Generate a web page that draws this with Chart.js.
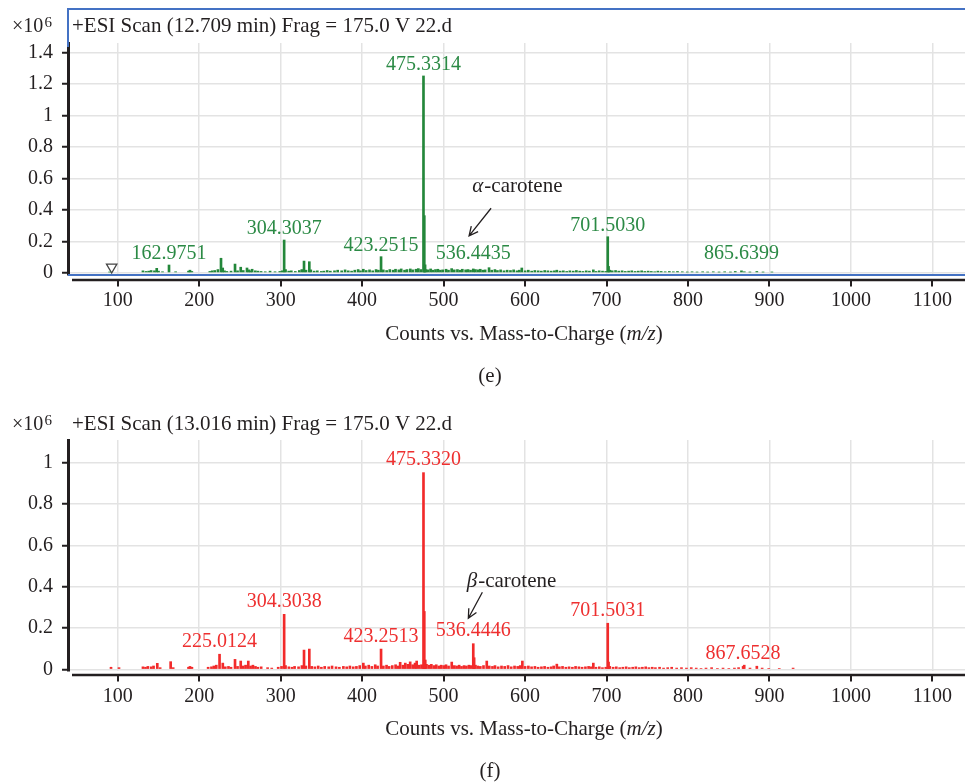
<!DOCTYPE html>
<html>
<head>
<title>ESI scans - alpha / beta carotene</title>
<script src="https://cdn.jsdelivr.net/npm/chart.js"></script>
<style>
    body { margin: 0; background: #fff; }
    .panel { position: absolute; left: 0; }
    #scanE { top: 0; }
    #scanF { top: 392px; }
</style>
</head>
<body>
<canvas id="scanE" class="panel" width="965" height="392"></canvas>
<canvas id="scanF" class="panel" width="965" height="392"></canvas>
<script>
// tick values
const xTicks = [100, 200, 300, 400, 500, 600, 700, 800, 900, 1000, 1100];
const yTicksE = [0, 0.2, 0.4, 0.6, 0.8, 1, 1.2, 1.4];
const yTicksF = [0, 0.2, 0.4, 0.6, 0.8, 1];

// [m/z, counts x10^6]
const peaksE = [
    [90.1,0.004],[131.0,0.012],[134.9,0.008],[138.1,0.010],[141.0,0.014],[145.1,0.012],[147.9,0.028],[150.1,0.010],
    [155.0,0.006],[162.98,0.049],[171.1,0.006],[186.9,0.010],[188.7,0.016],[191.0,0.008],[213.1,0.008],[216.0,0.012],
    [219.1,0.014],[223.0,0.020],[226.8,0.092],[228.9,0.030],[231.1,0.012],[234.0,0.008],[239.1,0.010],[244.0,0.055],
    [247.1,0.012],[251.0,0.035],[254.1,0.014],[258.7,0.030],[261.0,0.018],[263.1,0.012],[265.0,0.022],[268.9,0.012],
    [272.1,0.010],[276.0,0.008],[281.1,0.006],[287.0,0.010],[293.1,0.006],[299.0,0.008],[302.1,0.012],[304.30,0.208],
    [306.0,0.020],[309.9,0.010],[313.1,0.012],[318.0,0.008],[322.9,0.014],[326.0,0.020],[328.7,0.074],[331.1,0.016],
    [335.2,0.070],[337.0,0.018],[341.1,0.010],[345.0,0.012],[349.9,0.008],[353.0,0.010],[357.1,0.014],[361.0,0.010],
    [366.1,0.012],[370.0,0.016],[374.9,0.012],[379.1,0.018],[383.0,0.012],[387.1,0.010],[391.0,0.016],[395.1,0.020],
    [398.0,0.012],[401.5,0.022],[405.0,0.014],[409.1,0.018],[413.0,0.012],[417.1,0.020],[420.0,0.016],[423.25,0.102],
    [426.0,0.018],[430.1,0.014],[434.0,0.020],[438.1,0.016],[441.0,0.022],[445.1,0.018],[448.0,0.024],[452.1,0.016],
    [455.0,0.020],[459.1,0.024],[462.0,0.018],[466.1,0.022],[469.0,0.026],[472.1,0.020],[475.33,1.252],[476.33,0.363],
    [477.3,0.050],[478.3,0.020],[481.0,0.018],[484.1,0.024],[487.0,0.016],[490.1,0.020],[493.0,0.022],[496.1,0.016],
    [499.0,0.018],[503.1,0.022],[506.0,0.016],[509.9,0.026],[513.1,0.018],[517.0,0.020],[520.1,0.016],[523.0,0.022],
    [527.1,0.018],[530.0,0.020],[533.1,0.016],[536.44,0.024],[539.0,0.020],[542.1,0.018],[545.0,0.022],[548.1,0.016],
    [551.0,0.018],[555.8,0.032],[559.1,0.016],[563.0,0.020],[566.1,0.014],[570.0,0.018],[574.1,0.012],[578.0,0.016],
    [582.1,0.014],[586.0,0.018],[590.1,0.012],[593.0,0.016],[596.0,0.030],[600.1,0.012],[604.0,0.016],[608.1,0.010],
    [612.0,0.014],[616.1,0.012],[620.0,0.010],[624.1,0.014],[628.0,0.012],[632.1,0.010],[636.0,0.012],[639.0,0.016],
    [643.1,0.010],[647.0,0.012],[651.1,0.008],[655.0,0.012],[659.1,0.010],[663.0,0.014],[667.1,0.010],[671.0,0.008],
    [675.1,0.012],[679.0,0.010],[683.8,0.018],[687.1,0.008],[691.0,0.012],[695.1,0.010],[699.0,0.008],[701.50,0.229],
    [702.5,0.040],[704.1,0.016],[707.0,0.012],[711.1,0.014],[715.0,0.010],[719.1,0.012],[723.0,0.008],[727.1,0.010],
    [731.0,0.012],[735.1,0.008],[739.0,0.010],[743.1,0.012],[747.0,0.008],[751.1,0.010],[755.0,0.008],[759.1,0.006],
    [763.0,0.010],[767.1,0.008],[772.0,0.006],[777.1,0.008],[782.0,0.006],[787.1,0.008],[793.0,0.006],[799.1,0.004],
    [805.0,0.006],[811.1,0.004],[818.0,0.006],[824.1,0.004],[831.0,0.006],[838.1,0.004],[845.0,0.006],[852.1,0.004],
    [858.0,0.008],[865.64,0.012],[869.1,0.006],[876.0,0.004],[884.5,0.008],[892.1,0.004],[903.0,0.004]
];

// [m/z, counts x10^6]
const peaksF = [
    [91.8,0.010],[101.6,0.008],[131.0,0.012],[134.1,0.010],[137.0,0.014],[141.1,0.012],[144.0,0.016],[148.6,0.029],
    [152.1,0.008],[165.0,0.037],[168.1,0.008],[186.9,0.010],[188.7,0.014],[191.1,0.010],[211.0,0.010],[215.1,0.012],
    [218.0,0.016],[221.0,0.020],[225.01,0.073],[229.0,0.030],[232.1,0.012],[236.0,0.014],[239.1,0.010],[244.0,0.048],
    [247.1,0.014],[251.0,0.040],[254.1,0.016],[257.0,0.020],[260.3,0.040],[263.1,0.016],[266.0,0.020],[269.1,0.014],
    [272.0,0.010],[276.1,0.012],[284.0,0.008],[289.1,0.006],[297.0,0.010],[301.1,0.014],[304.30,0.266],[306.0,0.018],
    [310.1,0.012],[314.0,0.010],[317.1,0.014],[322.0,0.012],[326.1,0.018],[328.7,0.093],[331.0,0.016],[335.2,0.098],
    [338.1,0.014],[342.0,0.012],[346.1,0.016],[350.0,0.010],[354.1,0.014],[359.0,0.012],[363.1,0.016],[368.0,0.012],
    [372.1,0.010],[377.0,0.014],[381.1,0.012],[385.0,0.016],[389.1,0.012],[393.0,0.014],[397.1,0.018],[401.5,0.030],
    [404.0,0.016],[408.1,0.020],[412.0,0.014],[416.1,0.022],[419.0,0.016],[423.25,0.098],[426.1,0.016],[430.0,0.020],
    [433.1,0.014],[437.0,0.018],[441.1,0.022],[444.0,0.016],[446.7,0.034],[450.1,0.020],[453.0,0.030],[456.1,0.024],
    [459.0,0.036],[462.1,0.022],[465.0,0.030],[467.0,0.040],[470.1,0.020],[473.0,0.022],[475.33,0.952],[476.33,0.280],
    [477.5,0.045],[479.0,0.024],[482.1,0.020],[485.0,0.024],[488.1,0.018],[491.0,0.022],[494.1,0.016],[497.0,0.020],
    [500.1,0.018],[503.0,0.022],[506.1,0.016],[510.0,0.035],[513.1,0.018],[516.0,0.016],[519.1,0.020],[522.0,0.014],
    [525.1,0.018],[528.0,0.016],[531.1,0.020],[534.0,0.018],[536.44,0.124],[537.5,0.056],[539.1,0.020],[542.0,0.016],
    [545.1,0.014],[549.0,0.018],[553.0,0.040],[556.1,0.016],[560.0,0.014],[563.1,0.018],[567.0,0.012],[571.1,0.016],
    [575.0,0.014],[579.1,0.018],[583.0,0.012],[587.1,0.016],[591.0,0.014],[594.1,0.018],[596.7,0.040],[600.0,0.014],
    [604.1,0.016],[608.0,0.012],[612.1,0.014],[616.0,0.010],[620.1,0.012],[624.0,0.014],[628.1,0.010],[632.0,0.012],
    [635.1,0.016],[639.0,0.025],[642.1,0.012],[646.0,0.014],[650.1,0.010],[654.0,0.012],[658.1,0.010],[662.0,0.014],
    [666.1,0.012],[670.0,0.010],[674.1,0.012],[678.0,0.014],[681.1,0.012],[683.8,0.030],[687.0,0.010],[691.1,0.012],
    [695.0,0.008],[699.1,0.010],[701.50,0.223],[702.5,0.035],[704.0,0.014],[708.1,0.010],[712.0,0.012],[716.1,0.008],
    [720.0,0.010],[724.1,0.012],[728.0,0.008],[732.1,0.010],[736.0,0.012],[740.1,0.008],[744.0,0.010],[748.1,0.012],
    [752.0,0.008],[756.1,0.010],[760.0,0.008],[765.1,0.010],[770.0,0.006],[775.1,0.008],[780.0,0.010],[786.1,0.006],
    [792.0,0.008],[798.1,0.006],[804.0,0.008],[810.1,0.006],[816.0,0.004],[822.1,0.006],[829.0,0.008],[836.1,0.004],
    [843.0,0.006],[850.1,0.004],[857.0,0.006],[862.1,0.008],[867.65,0.014],[869.0,0.020],[876.1,0.006],[884.5,0.015],
    [891.0,0.006],[899.1,0.004],[912.0,0.004],[929.0,0.006]
];

// annotated peaks (label text is the m/z)
const labelsE = ['162.9751', '304.3037', '423.2515', '475.3314', '536.4435', '701.5030', '865.6399'];
const labelsF = ['225.0124', '304.3038', '423.2513', '475.3320', '536.4446', '701.5031', '867.6528'];

// precursor marker in (e)
const markE = [[92.6, 0.036]];

const SERIF = '"Liberation Serif", "DejaVu Serif", serif';
const INK = '#231f20';
const GRID = '#e3e3e3';

Chart.defaults.font.family = SERIF;
Chart.defaults.color = INK;

function nearestPeak(peaks, m) {
    let best = peaks[0];
    peaks.forEach(p => { if (Math.abs(p[0] - m) < Math.abs(best[0] - m)) best = p; });
    return best;
}

// titles, offset x axis, peak labels, arrow note
const decor = {
    id: 'decor',
    afterDatasetsDraw(chart, args, o) {
        const {ctx, chartArea: a, scales: {x, y}} = chart;
        ctx.save();

        if (o.frame) {
            ctx.strokeStyle = '#4472c4';
            ctx.lineWidth = 2;
            ctx.beginPath();
            ctx.moveTo(a.left, a.bottom); ctx.lineTo(chart.width + 2, a.bottom);
            ctx.moveTo(chart.width + 2, o.frame); ctx.lineTo(a.left, o.frame); ctx.lineTo(a.left, a.top + 4);
            ctx.stroke();
        }

        // x axis line sits a little below the plot
        const axisY = a.bottom + o.axisGap;
        ctx.strokeStyle = INK;
        ctx.lineWidth = 2.5;
        ctx.beginPath();
        ctx.moveTo(a.left + 4, axisY); ctx.lineTo(a.right, axisY);
        ctx.stroke();
        ctx.lineWidth = 2;
        ctx.beginPath();
        x.ticks.forEach(t => {
            const px = Math.round(x.getPixelForValue(t.value));
            ctx.moveTo(px, axisY); ctx.lineTo(px, axisY + 6.5);
        });
        ctx.stroke();

        // scan title and exponent
        ctx.fillStyle = INK;
        ctx.textAlign = 'left';
        ctx.textBaseline = 'alphabetic';
        ctx.font = '21px ' + SERIF;
        ctx.fillText(o.title, 72, o.titleY);
        ctx.font = '20px ' + SERIF;
        ctx.fillText('\u00d710', 12, o.titleY);
        ctx.font = '15px ' + SERIF;
        ctx.fillText('6', 44.5, o.titleY - 5);

        // axis title with italic m/z
        const parts = [['Counts vs. Mass-to-Charge (', ''], ['m/z', 'italic '], [')', '']];
        let w = 0;
        parts.forEach(p => { ctx.font = p[1] + '21px ' + SERIF; w += ctx.measureText(p[0]).width; });
        let tx = 524 - w / 2;
        parts.forEach(p => {
            ctx.font = p[1] + '21px ' + SERIF;
            ctx.fillText(p[0], tx, axisY + 60);
            tx += ctx.measureText(p[0]).width;
        });
        ctx.font = '21px ' + SERIF;
        ctx.textAlign = 'center';
        ctx.fillText(o.caption, 490, axisY + 102);

        // peak labels
        const zero = y.getPixelForValue(0);
        ctx.font = '20px ' + SERIF;
        ctx.fillStyle = o.labelColor;
        o.labels.forEach(txt => {
            const p = nearestPeak(o.peaks, parseFloat(txt));
            const px = x.getPixelForValue(p[0]);
            const top = y.getPixelForValue(p[1]);
            ctx.fillText(txt, px, Math.min(top - o.lift, zero - o.minLift));
        });

        // carotene note with arrow
        const n = o.note;
        const nx = x.getPixelForValue(n.at[0]), ny = y.getPixelForValue(n.at[1]);
        ctx.fillStyle = INK;
        ctx.textAlign = 'left';
        ctx.font = 'italic 21px ' + SERIF;
        ctx.fillText(n.greek, nx, ny);
        const gw = ctx.measureText(n.greek).width;
        ctx.font = '21px ' + SERIF;
        ctx.fillText(n.text, nx + gw + 1, ny);
        const x1 = x.getPixelForValue(n.from[0]), y1 = y.getPixelForValue(n.from[1]);
        const x2 = x.getPixelForValue(n.to[0]), y2 = y.getPixelForValue(n.to[1]);
        const ang = Math.atan2(y1 - y2, x1 - x2);
        ctx.strokeStyle = INK;
        ctx.lineWidth = 1.3;
        ctx.beginPath();
        ctx.moveTo(x1, y1); ctx.lineTo(x2, y2);
        ctx.moveTo(x2 + 10 * Math.cos(ang + 0.45), y2 + 10 * Math.sin(ang + 0.45));
        ctx.lineTo(x2, y2);
        ctx.lineTo(x2 + 10 * Math.cos(ang - 0.45), y2 + 10 * Math.sin(ang - 0.45));
        ctx.stroke();

        ctx.restore();
    }
};

function makeScan(id, cfg) {
    const datasets = [{
        type: 'bar',
        data: cfg.peaks.map(p => ({x: p[0], y: p[1]})),
        backgroundColor: cfg.barColor,
        borderWidth: 0,
        barThickness: 2
    }];
    if (cfg.marks) {
        datasets.push({
            type: 'scatter',
            data: cfg.marks.map(p => ({x: p[0], y: p[1]})),
            pointStyle: 'triangle',
            rotation: 180,
            pointRadius: 6,
            backgroundColor: '#fff',
            borderColor: '#444',
            borderWidth: 1.3
        });
    }
    new Chart(document.getElementById(id), {
        type: 'bar',
        data: {datasets},
        plugins: [decor],
        options: {
            responsive: false,
            animation: false,
            layout: {autoPadding: false, padding: {top: cfg.areaTop, left: 0, right: 0, bottom: 0}},
            plugins: {
                legend: {display: false},
                tooltip: {enabled: false},
                decor: cfg.decor
            },
            scales: {
                x: {
                    type: 'linear',
                    min: 39, max: 1140,
                    offset: false,
                    afterFit: s => { s.height = cfg.xHeight; s.paddingLeft = 0; s.paddingRight = 0; },
                    afterBuildTicks: s => { s.ticks = xTicks.map(v => ({value: v})); },
                    ticks: {padding: 14, font: {size: 20}, color: INK, maxRotation: 0, autoSkip: false,
                            callback: v => String(v)},
                    grid: {color: GRID, lineWidth: 1.5, drawTicks: false, offset: false},
                    border: {display: false}
                },
                y: {
                    min: cfg.yMin, max: cfg.yMax,
                    afterFit: s => { s.width = 68; s.paddingTop = 0; s.paddingBottom = 0; },
                    afterBuildTicks: s => { s.ticks = cfg.yTicks.map(v => ({value: v})); },
                    ticks: {padding: 9, font: {size: 20}, color: INK, callback: v => String(+v.toFixed(1))},
                    grid: {color: GRID, lineWidth: 1.5, tickColor: INK, tickLength: 6, tickWidth: 2},
                    border: {display: true, color: INK, width: 3}
                }
            }
        }
    });
}

makeScan('scanE', {
    peaks: peaksE, marks: markE, barColor: '#23873a',
    areaTop: 43, xHeight: 117, yMin: -0.0146, yMax: 1.4617, yTicks: yTicksE,
    decor: {
        frame: 9, axisGap: 5, titleY: 31.5,
        title: '+ESI Scan (12.709 min) Frag = 175.0 V 22.d', caption: '(e)',
        labels: labelsE, peaks: peaksE, labelColor: '#2b8a45', lift: 6, minLift: 13.5,
        note: {greek: '\u03b1', text: '-carotene', at: [535.3, 0.515], from: [558.3, 0.41], to: [531.3, 0.234]}
    }
});

makeScan('scanF', {
    peaks: peaksF, barColor: '#f22a2a',
    areaTop: 48, xHeight: 113, yMin: -0.0082, yMax: 1.110, yTicks: yTicksF,
    decor: {
        frame: 0, axisGap: 4, titleY: 37.5,
        title: '+ESI Scan (13.016 min) Frag = 175.0 V 22.d', caption: '(f)',
        labels: labelsF, peaks: peaksF, labelColor: '#ee2f2f', lift: 7.5, minLift: 10,
        note: {greek: '\u03b2', text: '-carotene', at: [528.4, 0.40], from: [547.6, 0.373], to: [530.4, 0.247]}
    }
});
</script>
</body>
</html>
